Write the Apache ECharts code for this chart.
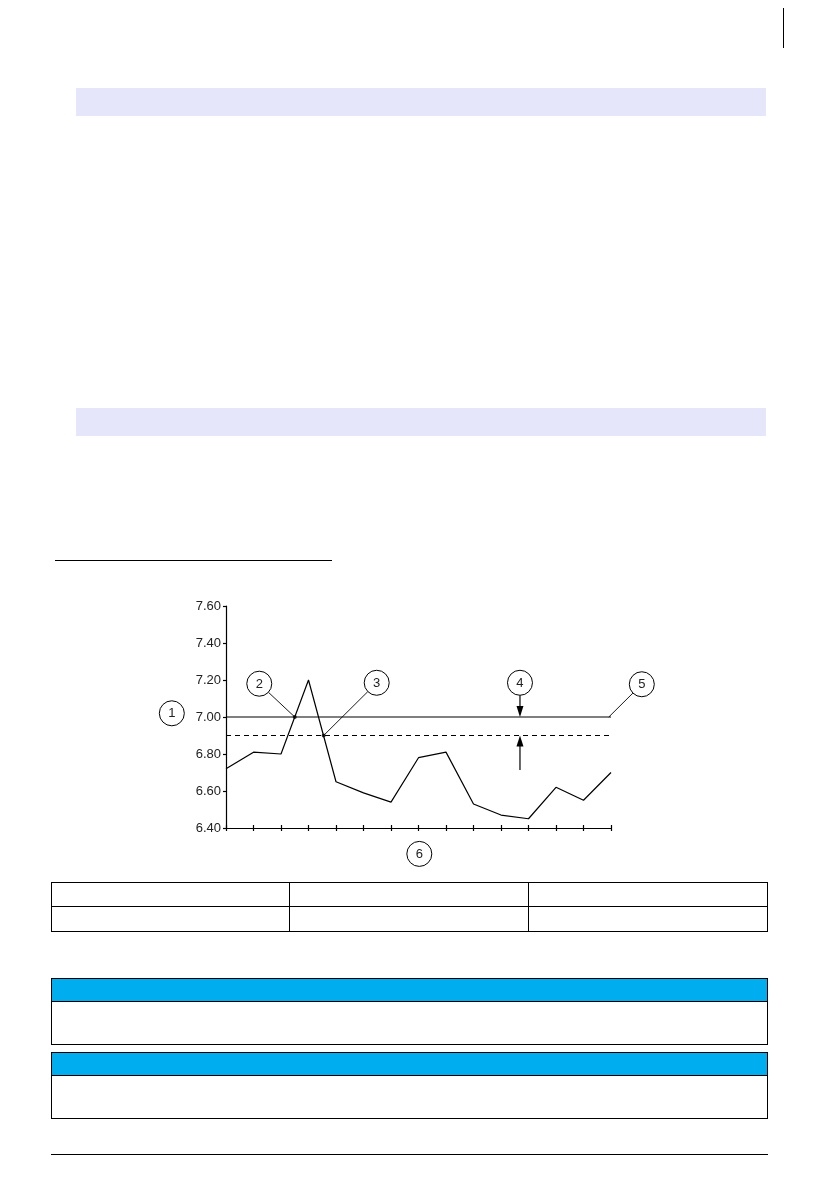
<!DOCTYPE html>
<html>
<head>
<meta charset="utf-8">
<script src="https://cdn.jsdelivr.net/npm/echarts@6/dist/echarts.min.js"></script>
<style>
  html, body { margin: 0; padding: 0; background: #fff; }
  #page { position: relative; width: 839px; height: 1191px; overflow: hidden; font-family: "Liberation Sans", Arial, sans-serif; }
  .blk { position: absolute; }
  .band { background: #e6e6fa; }
  .hl { background: #000; height: 1px; }
  .box { border: 1px solid #000; box-sizing: border-box; }
  .head { background: #00aeef; border-bottom: 1px solid #000; box-sizing: border-box; }
  #chart { position: absolute; left: 140px; top: 590px; width: 540px; height: 280px; }
</style>
</head>
<body>
<div id="page">
  <div class="blk" style="left:783px;top:8px;width:1px;height:40px;background:#000;"></div>
  <div class="blk band" style="left:76px;top:88px;width:690px;height:28px;"></div>
  <div class="blk band" style="left:76px;top:408px;width:690px;height:28px;"></div>
  <div class="blk hl" style="left:55px;top:560px;width:277px;"></div>

  <div id="chart"></div>

  <!-- empty table, 2 rows x 3 cols -->
  <div class="blk box" style="left:51px;top:882px;width:717px;height:50px;"></div>
  <div class="blk hl" style="left:51px;top:906px;width:717px;"></div>
  <div class="blk" style="left:289px;top:882px;width:1px;height:50px;background:#000;"></div>
  <div class="blk" style="left:528px;top:882px;width:1px;height:50px;background:#000;"></div>

  <!-- note boxes -->
  <div class="blk box" style="left:51px;top:978px;width:717px;height:67px;"></div>
  <div class="blk head" style="left:52px;top:979px;width:715px;height:23px;"></div>
  <div class="blk box" style="left:51px;top:1052px;width:717px;height:67px;"></div>
  <div class="blk head" style="left:52px;top:1053px;width:715px;height:23px;"></div>

  <div class="blk hl" style="left:51px;top:1154px;width:717px;"></div>
</div>

<script>
  // measurements per sample (x = sample index)
  var samples = [0, 1, 2, 3, 4, 5, 6, 7, 8, 9, 10, 11, 12, 13, 14];
  var readings = [6.72, 6.81, 6.80, 7.20, 6.65, 6.59, 6.54, 6.78, 6.81, 6.53, 6.47, 6.45, 6.62, 6.55, 6.70];
  var targetValue = 7.00;   // solid line
  var limitValue = 6.90;    // dashed line
  var yTicks = [6.40, 6.60, 6.80, 7.00, 7.20, 7.40, 7.60];
  // points where the trace crosses the two lines
  var crossX = [2.5, 3.55];
  var crossY = [7.00, 6.90];

  // callout bubbles (data coords) and where their leaders point
  var callouts = [
    { n: '1', x: -1.97, y: 7.02 },
    { n: '2', x: 1.21, y: 7.18, to: [2.5, 7.00] },
    { n: '3', x: 5.48, y: 7.185, to: [3.55, 6.90] },
    { n: '4', x: 10.69, y: 7.185 },
    { n: '5', x: 15.12, y: 7.177, to: [13.92, 7.00] },
    { n: '6', x: 7.03, y: 6.26 }
  ];

  var chartDom = document.getElementById('chart');
  var myChart = echarts.init(chartDom, null, { renderer: 'canvas' });

  var lineStyle = { color: '#000', width: 1.2 };

  var option = {
    animation: false,
    grid: { left: 86, top: 16, width: 385, height: 222 },
    xAxis: [
      {
        type: 'value', min: samples[0], max: samples[samples.length - 1], interval: 1,
        axisLine: { show: true, lineStyle: lineStyle },
        axisTick: { show: true, length: 3, lineStyle: lineStyle },
        axisLabel: { show: false },
        splitLine: { show: false }
      },
      {
        // second axis only to make the ticks cross the line
        type: 'value', position: 'bottom', min: samples[0], max: samples[samples.length - 1], interval: 1,
        axisLine: { show: false },
        axisTick: { show: true, inside: true, length: 3, lineStyle: lineStyle },
        axisLabel: { show: false },
        splitLine: { show: false }
      }
    ],
    yAxis: {
      type: 'value', min: yTicks[0], max: yTicks[yTicks.length - 1], interval: 0.2,
      axisLine: { show: true, lineStyle: lineStyle },
      axisTick: { show: true, length: 3, lineStyle: lineStyle },
      axisLabel: {
        margin: 5, color: '#222', fontSize: 13,
        fontFamily: '"Liberation Sans", Arial, sans-serif',
        formatter: function (v) { return v.toFixed(2); }
      },
      splitLine: { show: false }
    },
    series: [
      {
        type: 'line',
        data: samples.map(function (s, i) { return [s, readings[i]]; }),
        showSymbol: false,
        lineStyle: lineStyle
      },
      {
        type: 'line',
        data: [[samples[0], targetValue], [samples[samples.length - 1], targetValue]],
        showSymbol: false,
        lineStyle: lineStyle
      },
      {
        type: 'line',
        data: [[samples[0], limitValue], [samples[samples.length - 1], limitValue]],
        showSymbol: false,
        lineStyle: { color: '#000', width: 1.2, type: [5, 4] }
      },
      {
        type: 'scatter',
        data: crossX.map(function (x, i) { return [x, crossY[i]]; }),
        symbolSize: 4,
        itemStyle: { color: '#000' }
      }
    ]
  };
  myChart.setOption(option);

  // callouts drawn after layout so they follow the axes
  var R = 12.5;
  var px = function (x, y) { return myChart.convertToPixel({ gridIndex: 0 }, [x, y]); };
  var els = [];
  callouts.forEach(function (c) {
    var p = px(c.x, c.y);
    if (c.to) {
      var t = px(c.to[0], c.to[1]);
      var dx = t[0] - p[0], dy = t[1] - p[1];
      var d = Math.sqrt(dx * dx + dy * dy);
      els.push({
        type: 'line',
        shape: { x1: p[0] + dx / d * R, y1: p[1] + dy / d * R, x2: t[0], y2: t[1] },
        style: { stroke: '#000', lineWidth: 0.9 }
      });
    }
    els.push({
      type: 'circle',
      shape: { cx: p[0], cy: p[1], r: R },
      style: { fill: '#fff', stroke: '#000', lineWidth: 1 },
      z: 10
    });
    els.push({
      type: 'text',
      x: p[0], y: p[1] + 0.5,
      style: {
        text: c.n, fill: '#222', fontSize: 13,
        fontFamily: '"Liberation Sans", Arial, sans-serif',
        align: 'center', verticalAlign: 'middle'
      },
      z: 11
    });
  });

  // the two arrows of callout 4 marking the gap between the lines
  var c4 = callouts[3];
  var topTip = px(c4.x, targetValue);
  var botTip = px(c4.x, limitValue);
  var top0 = px(c4.x, c4.y);
  var tail = px(c4.x, 6.713);
  els.push({ type: 'line', shape: { x1: top0[0], y1: top0[1] + R, x2: topTip[0], y2: topTip[1] - 9 }, style: { stroke: '#000', lineWidth: 1.2 } });
  els.push({ type: 'polygon', shape: { points: [[topTip[0], topTip[1]], [topTip[0] - 3.5, topTip[1] - 11], [topTip[0] + 3.5, topTip[1] - 11]] }, style: { fill: '#000' } });
  els.push({ type: 'line', shape: { x1: tail[0], y1: tail[1], x2: botTip[0], y2: botTip[1] + 9 }, style: { stroke: '#000', lineWidth: 1.2 } });
  els.push({ type: 'polygon', shape: { points: [[botTip[0], botTip[1]], [botTip[0] - 3.5, botTip[1] + 11], [botTip[0] + 3.5, botTip[1] + 11]] }, style: { fill: '#000' } });

  myChart.setOption({ graphic: els });
</script>
</body>
</html>
